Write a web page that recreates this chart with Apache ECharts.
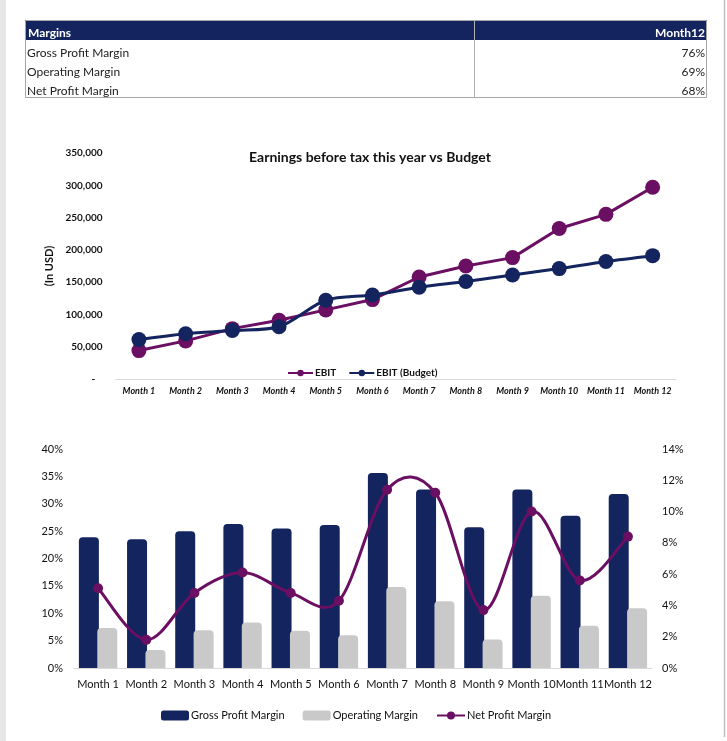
<!DOCTYPE html>
<html>
<head>
<meta charset="utf-8">
<script src="https://cdn.jsdelivr.net/npm/echarts@6/dist/echarts.min.js"></script>
<style>
html,body{margin:0;padding:0;background:#fff;}
#c{width:727px;height:741px;}
</style>
</head>
<body>
<div id="c"></div>
<script>
// ---- data ----
const months = ['Month 1','Month 2','Month 3','Month 4','Month 5','Month 6','Month 7','Month 8','Month 9','Month 10','Month 11','Month 12'];
const ebit = [44000, 59000, 78000, 91000, 107000, 123000, 158000, 175000, 188000, 233000, 255000, 297000];
const ebitBudget = [61000, 70000, 75000, 81000, 122000, 130000, 142000, 151000, 161000, 171000, 182000, 191000];
const grossMargin = [23.9, 23.5, 25.0, 26.3, 25.5, 26.1, 35.6, 32.6, 25.7, 32.6, 27.8, 31.8];
const operatingMargin = [7.3, 3.3, 6.9, 8.3, 6.8, 6.0, 14.8, 12.2, 5.2, 13.2, 7.7, 10.9];
const netMargin = [5.1, 1.8, 4.8, 6.1, 4.8, 4.3, 11.4, 11.2, 3.7, 10.0, 5.6, 8.4];
const tableHeader = ['Margins', 'Month12'];
const tableRows = ['Gross Profit Margin', 'Operating Margin', 'Net Profit Margin'];
const tableValues = ['76%', '69%', '68%'];

const NAVY = '#13245F';
const PURPLE = '#6B0F63';
const GRAY = '#C9C9C9';
const FONT = 'Lato, "Noto Sans", sans-serif';

const chart = echarts.init(document.getElementById('c'), null, {renderer: 'canvas'});

const graphics = [
  {type: 'rect', shape: {x: 0, y: 0, width: 6, height: 741}, style: {fill: '#e6e6e6'}, silent: true},
  {type: 'line', shape: {x1: 724.5, y1: 0, x2: 724.5, y2: 737}, style: {stroke: '#bfbfbf', lineWidth: 1.5}, silent: true},
  {type: 'rect', shape: {x: 25, y: 20, width: 682, height: 20}, style: {fill: NAVY}, silent: true},
  {type: 'rect', shape: {x: 25.5, y: 20.5, width: 681, height: 77}, style: {fill: 'none', stroke: '#a6a6a6', lineWidth: 1}, silent: true},
  {type: 'line', shape: {x1: 474.5, y1: 20, x2: 474.5, y2: 98}, style: {stroke: '#b0b0b0', lineWidth: 1}, silent: true},
  {type: 'text', style: {text: tableHeader[0], x: 28, y: 33, fill: '#fff', font: 'bold 12px ' + FONT, align: 'left', verticalAlign: 'middle'}},
  {type: 'text', style: {text: tableHeader[1], x: 705, y: 33, fill: '#fff', font: 'bold 12px ' + FONT, align: 'right', verticalAlign: 'middle'}}
];
tableRows.forEach((r, i) => {
  graphics.push({type: 'text', style: {text: r, x: 27, y: 53 + i * 19, fill: '#222', font: '12px ' + FONT, align: 'left', verticalAlign: 'middle'}});
  graphics.push({type: 'text', style: {text: tableValues[i], x: 705, y: 53 + i * 19, fill: '#222', font: '12px ' + FONT, align: 'right', verticalAlign: 'middle'}});
});

// Catmull-Rom style smoothed path (like spreadsheet smoothed lines), built from axis coordinates
function smoothPath(pts) {
  let d = 'M' + pts[0][0] + ',' + pts[0][1];
  for (let i = 0; i < pts.length - 1; i++) {
    const p0 = pts[i - 1] || pts[i];
    const p1 = pts[i];
    const p2 = pts[i + 1];
    const p3 = pts[i + 2] || p2;
    const c1x = p1[0] + (p2[0] - p0[0]) / 6, c1y = p1[1] + (p2[1] - p0[1]) / 6;
    const c2x = p2[0] - (p3[0] - p1[0]) / 6, c2y = p2[1] - (p3[1] - p1[1]) / 6;
    d += 'C' + c1x + ',' + c1y + ',' + c2x + ',' + c2y + ',' + p2[0] + ',' + p2[1];
  }
  return d;
}

const option = {
  animation: false,
  textStyle: {fontFamily: FONT},
  graphic: graphics,
  title: [{
    text: 'Earnings before tax this year vs Budget',
    left: 365, top: 145, textAlign: 'center',
    textStyle: {fontSize: 14, fontWeight: 'bold', color: '#111', fontFamily: FONT}
  }],
  legend: [{
    data: ['EBIT', 'EBIT (Budget)'],
    left: 282, top: 363,
    itemWidth: 25, itemHeight: 8, itemGap: 12,
    textStyle: {fontSize: 10, fontWeight: 'bold', color: '#111', fontFamily: FONT, padding: [0, 0, 0, -3]}
  }, {
    data: ['Gross Profit Margin', 'Operating Margin', {name: 'Net Profit Margin', lineStyle: {opacity: 1}}],
    left: 156, top: 705,
    itemWidth: 28, itemHeight: 10, itemGap: 18,
    textStyle: {fontSize: 11, color: '#111', fontFamily: FONT, padding: [0, 0, 0, -3]}
  }],
  grid: [
    {left: 115.6, right: 51, top: 153, bottom: 362, containLabel: false},
    {left: 74, right: 75, top: 449, bottom: 73, containLabel: false}
  ],
  xAxis: [{
    type: 'category', gridIndex: 0, data: months,
    axisLine: {lineStyle: {color: '#d9d9d9', width: 1}},
    axisTick: {show: false},
    axisLabel: {fontSize: 9, fontWeight: 'bold', fontStyle: 'italic', color: '#111', margin: 8, interval: 0}
  }, {
    type: 'category', gridIndex: 1, data: months,
    axisLine: {lineStyle: {color: '#d9d9d9', width: 1}},
    axisTick: {show: false},
    axisLabel: {fontSize: 11, color: '#111', margin: 11, interval: 0}
  }],
  yAxis: [{
    type: 'value', gridIndex: 0, min: 0, max: 350000, interval: 50000,
    name: '(In USD)', nameLocation: 'middle', nameGap: 57, nameRotate: 90,
    nameTextStyle: {fontSize: 11, fontWeight: 'bold', color: '#111'},
    axisLine: {show: false}, axisTick: {show: false}, splitLine: {show: false},
    axisLabel: {fontSize: 10, fontWeight: 'bold', color: '#111', margin: 13,
      formatter: v => v === 0 ? '-   ' : v.toLocaleString('en-US')}
  }, {
    type: 'value', gridIndex: 1, min: 0, max: 40, interval: 5,
    axisLine: {show: false}, axisTick: {show: false}, splitLine: {show: false},
    axisLabel: {fontSize: 11, color: '#111', margin: 11, formatter: '{value}%'}
  }, {
    type: 'value', gridIndex: 1, min: 0, max: 14, interval: 2, position: 'right',
    axisLine: {show: false}, axisTick: {show: false}, splitLine: {show: false},
    axisLabel: {fontSize: 11, color: '#111', margin: 10, formatter: '{value}%'}
  }],
  series: [{
    name: 'EBIT', type: 'line', xAxisIndex: 0, yAxisIndex: 0, data: ebit,
    symbol: 'circle', symbolSize: 15,
    lineStyle: {color: PURPLE, width: 3}, itemStyle: {color: PURPLE}
  }, {
    name: 'EBIT (Budget)', type: 'line', xAxisIndex: 0, yAxisIndex: 0, data: ebitBudget,
    symbol: 'circle', symbolSize: 15, smooth: 0.3,
    lineStyle: {color: NAVY, width: 3}, itemStyle: {color: NAVY}
  }, {
    name: 'Gross Profit Margin', type: 'bar', xAxisIndex: 1, yAxisIndex: 1, data: grossMargin,
    barWidth: 20, barGap: '-8%',
    itemStyle: {color: NAVY, borderRadius: [4, 4, 0, 0]}
  }, {
    name: 'Operating Margin', type: 'bar', xAxisIndex: 1, yAxisIndex: 1, data: operatingMargin,
    barWidth: 20, barGap: '-8%',
    itemStyle: {color: GRAY, borderRadius: [4, 4, 0, 0]}
  }, {
    name: 'Net Profit Margin curve', type: 'custom', xAxisIndex: 1, yAxisIndex: 2,
    data: netMargin.map((v, i) => [i, v]),
    clip: false, z: 3, silent: true,
    renderItem: function (params, api) {
      if (params.dataIndex !== 0) return null;
      const pts = netMargin.map((v, i) => api.coord([i, v]));
      return {type: 'path', shape: {pathData: smoothPath(pts)},
        style: {stroke: PURPLE, lineWidth: 3, fill: 'none'}};
    }
  }, {
    name: 'Net Profit Margin', type: 'line', xAxisIndex: 1, yAxisIndex: 2, data: netMargin,
    symbol: 'circle', symbolSize: 10, z: 4,
    lineStyle: {color: PURPLE, width: 3, opacity: 0}, itemStyle: {color: PURPLE}
  }]
};
chart.setOption(option);
</script>
</body>
</html>
